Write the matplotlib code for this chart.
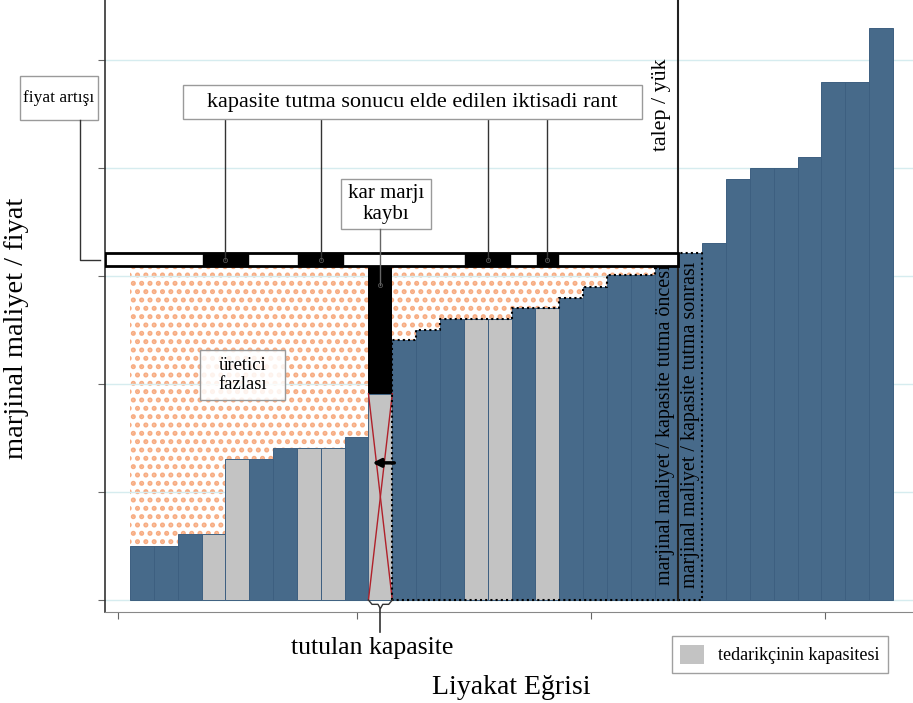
import matplotlib
matplotlib.use("Agg")
import matplotlib.pyplot as plt
from matplotlib.patches import Patch, Rectangle
import numpy as np

plt.rcParams['font.family'] = ['Liberation Serif', 'DejaVu Serif']
plt.rcParams['hatch.linewidth'] = 2.4

# marginal cost of each plant in merit order (one unit of capacity each)
costs = [0.50, 0.50, 0.61, 0.61, 1.31, 1.31, 1.41, 1.41, 1.41, 1.51, 1.91,
         2.41, 2.50, 2.60, 2.60, 2.60, 2.70, 2.70, 2.80, 2.90, 3.01, 3.01,
         3.10, 3.21, 3.31, 3.90, 4.00, 4.00, 4.10, 4.80, 4.80, 5.30]
supplier = [3, 4, 7, 8, 10, 14, 15, 17]   # plants of the withholding supplier
held = 10                                 # withheld plant
demand = 23                               # demand / load (units of capacity)
price_before = 3.09
price_after = 3.21
rent_segments = [(3, 5), (7, 9), (14, 16), (17, 18)]

blue = '#476a8a'
grey = '#c3c3c3'
orange = '#f7ac82'

W, H = 913, 703
fig = plt.figure(figsize=(W / 100, H / 100), dpi=100)
ax = fig.add_axes([105 / W, 91 / H, 808 / W, 612 / H])
ax.set_xlim(-1.05, 32.84)
ax.set_ylim(-0.111, 5.556)


def pa(px, py):
    # pixel position (from top-left) -> axes fraction
    return (px - 105) / 808, (612 - py) / 612


def label_box(x0, y0, x1, y1, text, size, alpha=1.0):
    ax0, ay1 = pa(x0, y0)
    ax1, ay0 = pa(x1, y1)
    ax.add_patch(Rectangle((ax0, ay0), ax1 - ax0, ay1 - ay0,
                           transform=ax.transAxes, facecolor='white',
                           edgecolor='none', alpha=alpha,
                           clip_on=False, zorder=10))
    ax.add_patch(Rectangle((ax0, ay0), ax1 - ax0, ay1 - ay0,
                           transform=ax.transAxes, facecolor='none',
                           edgecolor='#9a9a9a', lw=1, clip_on=False, zorder=10))
    ax.text((ax0 + ax1) / 2, (ay0 + ay1) / 2, text, transform=ax.transAxes,
            ha='center', va='center', fontsize=size, linespacing=1.1,
            zorder=11)


n = len(costs)
x = np.arange(n)
colors = [grey if i in supplier else blue for i in x]
ax.bar(x, costs, width=1.0, align='edge', color=colors,
       edgecolor='#3d5f80', linewidth=0.7, zorder=2)

# producer surplus (dotted orange area)
xs = np.arange(demand)
ys = np.append(np.array(costs[:demand - 1]), costs[demand - 2])
ax.fill_between(xs, price_before, ys, step='post', facecolor='white',
                edgecolor=orange, hatch='..', linewidth=0, zorder=0.3)

# lost margin on the withheld plant
ax.bar(held, price_before - costs[held], bottom=costs[held], width=1.0,
       align='edge', color='black', zorder=3)
ax.plot([held, held + 1], [0, costs[held]], color='#b0202a', lw=1, zorder=4)
ax.plot([held, held + 1], [costs[held], 0], color='#b0202a', lw=1, zorder=4)
ax.annotate('', xy=(held + 0.05, 1.27), xytext=(held + 1.2, 1.27),
            arrowprops=dict(arrowstyle='-|>', color='black', lw=2.5,
                            mutation_scale=12), zorder=5)

# dotted outline of the shifted supply curve
sx = [held + 1]
sy = [0]
for i in range(held + 1, demand + 1):
    sx += [i, i + 1]
    sy += [costs[i], costs[i]]
sx += [demand + 1, held + 1]
sy += [0, 0]
ax.plot(sx, sy, color='black', ls=(0, (1, 1.5)), lw=1.5, zorder=4)

# demand line
ax.plot([demand, demand], [0, 5.556], color='#222222', lw=1.5, zorder=5)

# price band
mid = (price_before + price_after) / 2
ax.add_patch(Rectangle((-1.05, price_before), demand + 1.05,
                       price_after - price_before, facecolor='white',
                       edgecolor='black', lw=2, zorder=6))
for a, b in rent_segments:
    ax.add_patch(Rectangle((a + 0.05, price_before), b - a - 0.1,
                           price_after - price_before, facecolor='black',
                           edgecolor='black', lw=1, zorder=7))
    c = (a + b) / 2
    ax.plot([c, c], [4.454, mid], color='#333333', lw=1, zorder=8)
    ax.plot(c, mid, 'o', ms=3, mfc='none', mec='#555555', mew=0.6, zorder=9)

# labels in boxes
label_box(183, 85, 642, 119, 'kapasite tutma sonucu elde edilen iktisadi rant', 16)
label_box(20, 76, 98, 120, 'fiyat artışı', 12.5)
ax.plot([-2.1, -2.1, -1.25], [4.444, mid, mid], color='#333333', lw=1,
        clip_on=False, zorder=10)
label_box(341, 179, 431, 229, 'kar marjı\nkaybı', 15)
ax.plot([held + 0.5, held + 0.5], [3.435, 2.92], color='#666666', lw=1, zorder=10)
ax.plot(held + 0.5, 2.92, 'o', ms=3, mfc='none', mec='#555555', mew=0.6, zorder=10)
label_box(200, 350, 285, 400, 'üretici\nfazlası', 13.4, alpha=0.85)

ax.text(22.3, 4.59, 'talep / yük', rotation=90, ha='center', va='center',
        fontsize=15.8, zorder=10)
ax.text(22.45, 1.62, 'marjinal maliyet / kapasite tutma öncesi', rotation=90,
        ha='center', va='center', fontsize=14.5, zorder=10)
ax.text(23.5, 1.62, 'marjinal maliyet / kapasite tutma sonrası', rotation=90,
        ha='center', va='center', fontsize=14.5, zorder=10)

# brace under withheld capacity
bx = held + np.array([0, 0.15, 0.4, 0.5, 0.6, 0.85, 1.0])
by = np.array([0, -0.04, -0.04, -0.08, -0.04, -0.04, 0])
ax.plot(bx, by, color='#333333', lw=1, clip_on=False, zorder=10)
ax.plot([held + 0.5, held + 0.5], [-0.08, -0.296], color='#333333', lw=1.2,
        clip_on=False, zorder=10)

# axes styling
for s in ['top', 'right']:
    ax.spines[s].set_visible(False)
ax.spines['left'].set_color('#333333')
ax.spines['left'].set_linewidth(1.2)
ax.spines['bottom'].set_color('#888888')
ax.set_yticks(range(6))
ax.set_xticks([-0.5, 9.52, 19.34, 29.15])
ax.set_yticklabels([])
ax.set_xticklabels([])
ax.tick_params(axis='both', length=5, color='#666666')
ax.yaxis.grid(True, color='#d6ecef', lw=1)
ax.set_axisbelow(True)

fig.text(17 / W, 1 - 328 / H, 'marjinal maliyet / fiyat', rotation=90,
         ha='center', va='center', fontsize=20.5)
fig.text(372 / W, 1 - 648 / H, 'tutulan kapasite', ha='center',
         va='center', fontsize=18.5)
fig.text(511 / W, 1 - 688 / H, 'Liyakat Eğrisi', ha='center',
         va='center', fontsize=20)

leg = fig.legend(handles=[Patch(facecolor=grey, edgecolor='none',
                                label='tedarikçinin kapasitesi')],
                 loc='center', bbox_to_anchor=(780 / W, 1 - 654.5 / H),
                 fancybox=False, edgecolor='#888888', fontsize=13,
                 handlelength=1.3, handleheight=1.3, borderpad=0.45,
                 handletextpad=0.8)
leg.get_frame().set_linewidth(1)

fig.savefig('out.png', dpi=100)
